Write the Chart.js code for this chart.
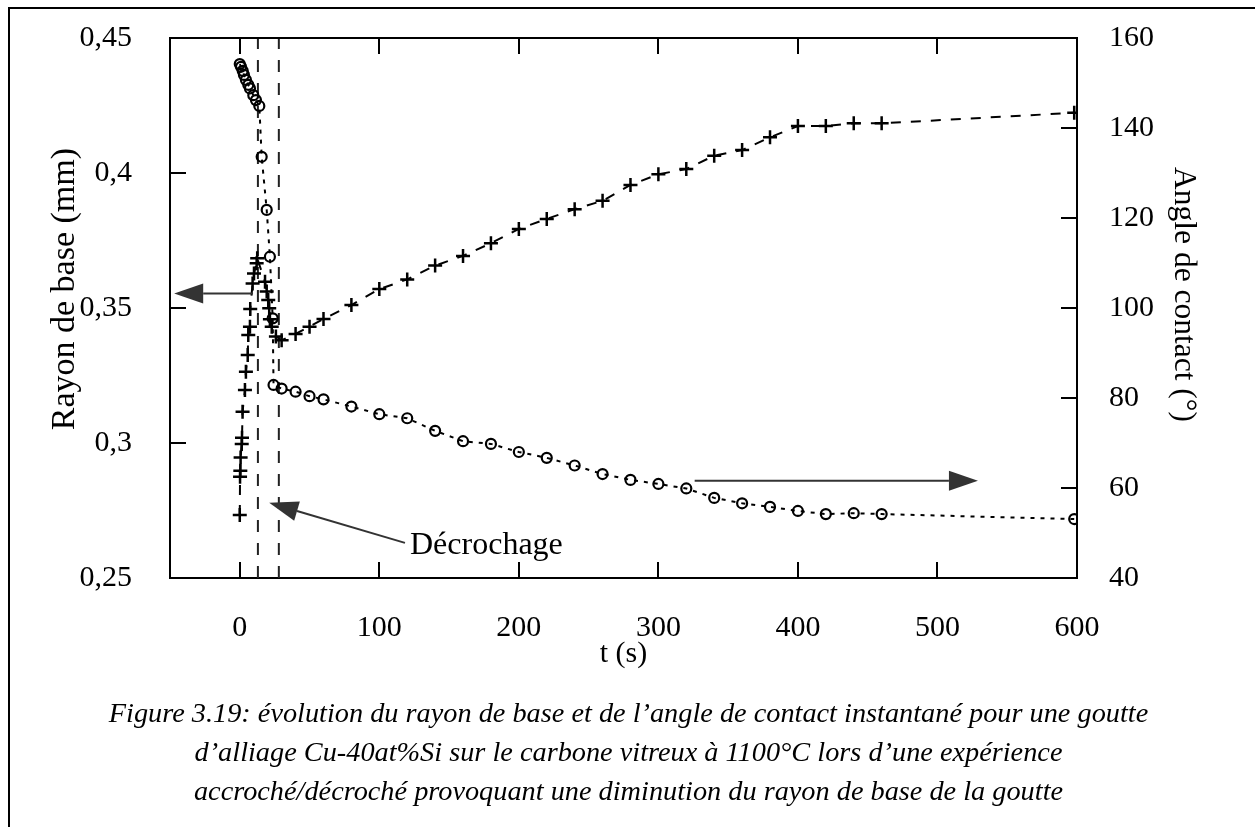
<!DOCTYPE html>
<html><head><meta charset="utf-8">
<script src="https://cdn.jsdelivr.net/npm/chart.js@4.4.1/dist/chart.umd.min.js"></script>
<style>
html,body{margin:0;padding:0;background:#fff;}
body{width:1255px;height:827px;position:relative;overflow:hidden;}
#frame{position:absolute;left:8px;top:7px;width:1300px;height:900px;border-left:2px solid #000;border-top:2px solid #000;}
#wrap{position:absolute;left:0;top:0;width:1255px;height:827px;}
#caption{position:absolute;left:0;width:1257px;top:693px;text-align:center;font-family:"Liberation Serif",serif;font-style:italic;font-size:28.3px;line-height:39px;color:#000;}
</style></head>
<body>
<div id="frame"></div>
<div id="wrap"><canvas id="c" width="1255" height="827"></canvas></div>
<div id="caption">Figure 3.19: évolution du rayon de base et de l’angle de contact instantané pour une goutte<br>d’alliage Cu-40at%Si sur le carbone vitreux à 1100°C lors d’une expérience<br>accroché/décroché provoquant une diminution du rayon de base de la goutte</div>
<script>
// ---- data ----
const tRayon = [0, 0.2, 0.4, 0.6, 1.4, 1.6, 2.0, 3.7, 4.4, 5.7, 6.1, 7.3, 7.5, 9.2, 10.2, 12.1, 12.5,
  18.1, 19.3, 20.4, 21.1, 21.6, 22.9, 25.9, 30, 40, 50, 60, 80, 100, 120, 140, 160, 180, 200, 220,
  240, 260, 280, 300, 320, 340, 360, 380, 400, 420, 440, 460, 598];
const rayon = [0.2733, 0.2875, 0.2897, 0.2946, 0.2996, 0.3019, 0.3116, 0.3196, 0.3264, 0.3326, 0.3400,
  0.3431, 0.3496, 0.3591, 0.3628, 0.3666, 0.3684,
  0.3597, 0.3561, 0.3530, 0.3499, 0.3458, 0.3431, 0.3394, 0.3381, 0.3404, 0.3431, 0.3459, 0.3511,
  0.3570, 0.3606, 0.3657, 0.3693, 0.3740, 0.3793, 0.3830,
  0.3866, 0.3897, 0.3956, 0.3995, 0.4015, 0.4064, 0.4085, 0.4132, 0.4174, 0.4174, 0.4184, 0.4184, 0.4223];
const tAngle = [0, 0.9, 2.1, 3, 4.4, 6.1, 7.3, 9.7, 11.6, 14, 15.7, 19.3, 21.6, 23.6, 24.2, 30, 40, 50, 60,
  80, 100, 120, 140, 160, 180, 200, 220, 240, 260, 280, 300, 320, 340, 360, 380, 400, 420, 440, 460, 598];
const angle = [154.2, 153.6, 152.7, 151.8, 150.7, 149.6, 148.8, 147.3, 146.2, 144.9, 133.6, 121.8, 111.4,
  97.7, 82.9, 82.1, 81.4, 80.4, 79.7, 78.1, 76.4, 75.5, 72.7, 70.4, 69.8, 68.0, 66.7, 65.0, 63.1, 61.8,
  60.9, 59.9, 57.8, 56.6, 55.8, 54.9, 54.2, 54.4, 54.2, 53.1];
const tDecrochage = [13, 28];
const xTicks = [0, 100, 200, 300, 400, 500, 600];
const yTicks = [0.25, 0.3, 0.35, 0.4, 0.45];
const yTickLabels = ["0,25", "0,3", "0,35", "0,4", "0,45"];
const y2Ticks = [40, 60, 80, 100, 120, 140, 160];
const xTitle = "t (s)";
const yTitle = "Rayon de base (mm)";
const y2Title = "Angle de contact (°)";
const annotText = "Décrochage";
// arrows in data coordinates: [x, y] on the named axis
const arrowRayon = {axis: 'y', from: [9.5, 0.3554], to: [-47, 0.3554]};
const arrowAngle = {axis: 'y2', from: [326, 61.6], to: [529, 61.6]};
const arrowDecro = {axis: 'y2', from: [118.4, 47.8], to: [21.1, 56.7]};
const annotPos = {axis: 'y2', at: [122, 47.3]};

const FONT = "'Liberation Serif', 'Times New Roman', serif";
const FS = 30;

const pts = (xs, ys) => xs.map((x, i) => ({x: x, y: ys[i]}));

const vlines = tDecrochage.map(t => ({
  data: [{x: t, y: yTicks[0]}, {x: t, y: yTicks[yTicks.length - 1]}],
  yAxisID: 'y', borderColor: '#222', borderWidth: 2, borderDash: [12, 11],
  pointRadius: 0, fill: false, tension: 0, order: 3
}));

function arrow(ctx, x1, y1, x2, y2, len, half) {
  const a = Math.atan2(y2 - y1, x2 - x1);
  const bx = x2 - len * Math.cos(a), by = y2 - len * Math.sin(a);
  ctx.beginPath(); ctx.moveTo(x1, y1); ctx.lineTo(bx, by); ctx.stroke();
  ctx.beginPath();
  ctx.moveTo(x2, y2);
  ctx.lineTo(bx + half * Math.sin(a), by - half * Math.cos(a));
  ctx.lineTo(bx - half * Math.sin(a), by + half * Math.cos(a));
  ctx.closePath(); ctx.fill();
}

function vtext(ctx, text, x, y, rot, size) {
  ctx.save();
  ctx.translate(x, y); ctx.rotate(rot);
  ctx.font = size + 'px ' + FONT;
  ctx.textAlign = 'center'; ctx.textBaseline = 'middle';
  ctx.fillText(text, 0, 0);
  ctx.restore();
}

const decor = {
  id: 'decor',
  afterDraw(chart) {
    const ctx = chart.ctx, ca = chart.chartArea;
    const sx = chart.scales.x, sy = chart.scales.y, sy2 = chart.scales.y2;
    ctx.save();
    ctx.strokeStyle = '#000'; ctx.lineWidth = 2;
    ctx.beginPath(); ctx.moveTo(ca.left - 1, ca.top); ctx.lineTo(ca.right + 1, ca.top); ctx.stroke();
    const TL = 16;
    ctx.beginPath();
    xTicks.forEach(v => {
      const p = Math.round(sx.getPixelForValue(v));
      ctx.moveTo(p, ca.bottom); ctx.lineTo(p, ca.bottom - TL);
      ctx.moveTo(p, ca.top); ctx.lineTo(p, ca.top + TL);
    });
    yTicks.forEach(v => {
      const p = Math.round(sy.getPixelForValue(v));
      ctx.moveTo(ca.left, p); ctx.lineTo(ca.left + TL, p);
    });
    y2Ticks.forEach(v => {
      const p = Math.round(sy2.getPixelForValue(v));
      ctx.moveTo(ca.right, p); ctx.lineTo(ca.right - TL, p);
    });
    ctx.stroke();
    ctx.strokeStyle = '#333'; ctx.fillStyle = '#333'; ctx.lineWidth = 2;
    [arrowRayon, arrowAngle, arrowDecro].forEach(a => {
      const s = chart.scales[a.axis];
      arrow(ctx, sx.getPixelForValue(a.from[0]), s.getPixelForValue(a.from[1]),
        sx.getPixelForValue(a.to[0]), s.getPixelForValue(a.to[1]), 29, 10);
    });
    ctx.fillStyle = '#000';
    ctx.font = '32px ' + FONT;
    ctx.textBaseline = 'middle'; ctx.textAlign = 'left';
    ctx.fillText(annotText, sx.getPixelForValue(annotPos.at[0]), chart.scales[annotPos.axis].getPixelForValue(annotPos.at[1]));
    // axis titles (vertical)
    vtext(ctx, yTitle, ca.left - 105, ca.top + (ca.bottom - ca.top) * 0.465, -Math.PI / 2, 34);
    vtext(ctx, y2Title, ca.right + 106, ca.top + (ca.bottom - ca.top) * 0.475, Math.PI / 2, 31.5);
    ctx.restore();
  }
};

Chart.defaults.font.family = FONT;
Chart.defaults.font.size = FS;
Chart.defaults.color = '#000';

const noPad = s => { s.paddingTop = 0; s.paddingBottom = 0; };

new Chart(document.getElementById('c'), {
  type: 'line',
  data: {
    datasets: [
      {
        label: yTitle, data: pts(tRayon, rayon), yAxisID: 'y',
        borderColor: '#000', borderWidth: 2, borderDash: [10, 10], tension: 0, fill: false,
        pointStyle: 'cross', pointRadius: 7, pointBorderWidth: 2.5, pointBorderColor: '#000', order: 1
      },
      {
        label: y2Title, data: pts(tAngle, angle), yAxisID: 'y2',
        borderColor: '#000', borderWidth: 2, borderDash: [4, 6], tension: 0, fill: false,
        pointStyle: 'circle', pointRadius: 5, pointBorderWidth: 2.2, pointBorderColor: '#000',
        pointBackgroundColor: 'rgba(0,0,0,0)', order: 2
      },
      ...vlines
    ]
  },
  options: {
    responsive: false, animation: false, devicePixelRatio: 1,
    layout: {padding: {left: 0, right: 0, top: 38, bottom: 137}},
    plugins: {legend: {display: false}, tooltip: {enabled: false}},
    scales: {
      x: {
        type: 'linear', position: 'bottom', min: -50, max: 600,
        afterBuildTicks: s => { s.ticks = xTicks.map(v => ({value: v})); },
        afterFit: s => { s.height = 112; },
        grid: {display: false}, border: {display: true, color: '#000', width: 2},
        ticks: {padding: 24, maxRotation: 0, autoSkip: false, font: {size: FS}},
        title: {display: true, text: xTitle, font: {size: FS}, padding: {top: 0, bottom: 18}}
      },
      y: {
        type: 'linear', position: 'left', min: 0.25, max: 0.45,
        afterBuildTicks: s => { s.ticks = yTicks.map(v => ({value: v})); },
        afterFit: s => { s.width = 170; noPad(s); },
        grid: {display: false}, border: {display: true, color: '#000', width: 2},
        ticks: {padding: 30, autoSkip: false, callback: (v) => yTickLabels[yTicks.findIndex(t => Math.abs(t - v) < 1e-9)]},
        title: {display: false}
      },
      y2: {
        type: 'linear', position: 'right', min: 40, max: 160,
        afterBuildTicks: s => { s.ticks = y2Ticks.map(v => ({value: v})); },
        afterFit: s => { s.width = 178; noPad(s); },
        grid: {display: false}, border: {display: true, color: '#000', width: 2},
        ticks: {padding: 24, autoSkip: false},
        title: {display: false}
      }
    }
  },
  plugins: [decor]
});
</script>
</body></html>
